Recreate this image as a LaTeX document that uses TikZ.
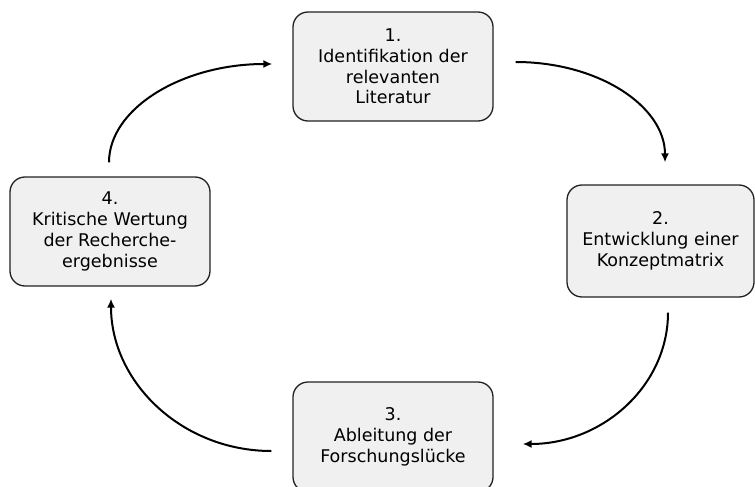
\documentclass[tikz,border=0pt]{standalone}
\usepackage{fontspec}
\setmainfont{DejaVu Sans}
\usetikzlibrary{arrows.meta}
\definecolor{boxfill}{HTML}{F0F0F0}
\definecolor{boxline}{HTML}{222222}
\begin{document}
\begin{tikzpicture}[x=1pt,y=-1pt,
  stepbox/.style={draw=boxline, line width=1.3pt, fill=boxfill, rounded corners=15pt,
    inner sep=0pt, align=center, font=\fontsize{17.5}{20.8}\selectfont},
  cycarrow/.style={line width=2pt, -{Latex[length=9pt,width=8pt]}}]
  \useasboundingbox (0,0) rectangle (755,487);
  \clip (0,0) rectangle (755,487);

  % process steps
  \node[stepbox, minimum width=200pt, minimum height=109pt] (n1) at (393,66.5)
    {1.\\Identifikation der\\relevanten\\Literatur};
  \node[stepbox, minimum width=187pt, minimum height=112pt] (n2) at (660.5,241)
    {2.\\Entwicklung einer\\Konzeptmatrix};
  \node[stepbox, minimum width=200pt, minimum height=110pt] (n3) at (393,437)
    {3.\\Ableitung der\\Forschungslücke};
  \node[stepbox, minimum width=200pt, minimum height=109pt] (n4) at (110,231.5)
    {4.\\Kritische Wertung\\der Recherche-\\ergebnisse};

  % free ends of the cycle arrows
  \coordinate (a1) at ([shift={(22,-4.5)}]n1.east);
  \coordinate (b1) at ([shift={(4.5,-22)}]n2.north);
  \coordinate (a2) at ([shift={(7.5,15)}]n2.south);
  \coordinate (b2) at ([shift={(29,7)}]n3.east);
  \coordinate (a3) at ([shift={(-21,14)}]n3.west);
  \coordinate (b3) at ([shift={(1,12)}]n4.south);
  \coordinate (a4) at ([shift={(-1,-14)}]n4.north);
  \coordinate (b4) at ([shift={(-20,-2.5)}]n1.west);

  % clockwise cycle
  \draw[cycarrow] (a1) .. controls +(83,0) and +(0,-56) .. (b1);
  \draw[cycarrow] (a2) .. controls +(0,73) and +(80,0) .. (b2);
  \draw[cycarrow] (a3) .. controls +(-89,0) and +(0,84) .. (b3);
  \draw[cycarrow] (a4) .. controls +(0,-54) and +(-90,0) .. (b4);
\end{tikzpicture}
\end{document}
